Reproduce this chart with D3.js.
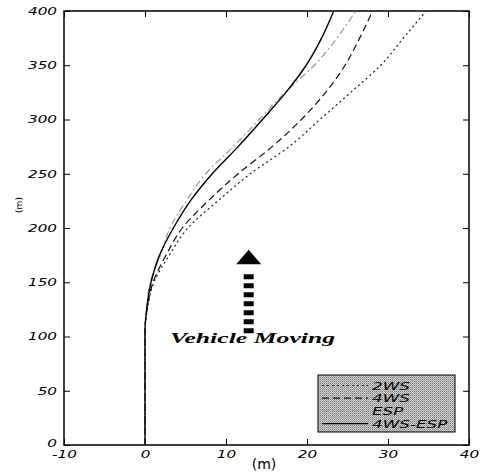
<!DOCTYPE html>
<html>
<head>
<meta charset="utf-8">
<script src="https://cdn.jsdelivr.net/npm/d3@7"></script>
<style>
  body { margin: 0; background: #fff; }
  .tick line { stroke: #000; }
</style>
</head>
<body>
<script>
// lateral position (m) along the path, sampled at these travel distances (m)
var yGrid   = [0, 105, 125, 150, 175, 200, 225, 250, 275, 300, 325, 350, 375, 400];
var x2WS    = [0, 0, 0.3, 1.1, 3.0, 5.3, 9.0, 13.0, 17.8, 21.6, 25.4, 29.1, 31.9, 34.7];
var x4WS    = [0, 0, 0.25, 1.0, 2.6, 4.6, 7.8, 11.5, 15.7, 19.3, 22.3, 24.7, 26.5, 28.1];
var xESP    = [0, 0, 0.2, 0.65, 1.9, 3.1, 5.1, 7.5, 10.9, 14.1, 17.3, 20.9, 23.7, 26.0];
var x4WSESP = [0, 0, 0.2, 0.75, 1.8, 3.5, 5.6, 8.3, 11.5, 14.5, 17.4, 19.9, 21.8, 23.3];

var seriesNames = ["2WS", "4WS", "ESP", "4WS-ESP"];
var xTicks = [-10, 0, 10, 20, 30, 40];
var yTicks = [0, 50, 100, 150, 200, 250, 300, 350, 400];

var styles = {
  "2WS":     {dash: "2,3",     color: "#222", w: 1.2},
  "4WS":     {dash: "7,4",     color: "#111", w: 1.2},
  "ESP":     {dash: "7,3,2,3", color: "#999", w: 1.2},
  "4WS-ESP": {dash: null,      color: "#000", w: 1.4}
};
var seriesX = {"2WS": x2WS, "4WS": x4WS, "ESP": xESP, "4WS-ESP": x4WSESP};

var margin = {top: 11, right: 17, bottom: 29, left: 64},
    W = 486, H = 474,
    width = W - margin.left - margin.right,
    height = H - margin.top - margin.bottom;

var x = d3.scaleLinear().domain([-10, 40]).range([0, width]);
var y = d3.scaleLinear().domain([0, 400]).range([height, 0]);

var svg = d3.select("body").append("svg")
    .attr("width", W)
    .attr("height", H)
  .append("g")
    .attr("transform", "translate(" + margin.left + "," + margin.top + ")");

// halftone fill for the legend
var pat = svg.append("defs").append("pattern")
    .attr("id", "dots").attr("width", 2).attr("height", 2)
    .attr("patternUnits", "userSpaceOnUse");
pat.append("rect").attr("width", 2).attr("height", 2).attr("fill", "#d4d4d4");
pat.append("rect").attr("width", 1).attr("height", 1).attr("fill", "#777");
pat.append("rect").attr("x", 1).attr("y", 1).attr("width", 1).attr("height", 1).attr("fill", "#a0a0a0");

// axes
var fmt = function(d) { return String(d); };
var xAxis = d3.axisBottom(x).tickValues(xTicks).tickFormat(fmt).tickSizeInner(-6).tickSizeOuter(0).tickPadding(6);
var yAxis = d3.axisLeft(y).tickValues(yTicks).tickFormat(fmt).tickSizeInner(-6).tickSizeOuter(0).tickPadding(7);

var gx = svg.append("g")
    .attr("transform", "translate(0," + height + ")")
    .call(xAxis);
gx.selectAll("text")
    .attr("transform", "scale(1.45,1)")
    .style("font-family", "DejaVu Sans").style("font-style", "italic")
    .style("font-size", "10.5px").attr("fill", "#000");

var gy = svg.append("g").call(yAxis);
gy.selectAll("text")
    .attr("x", 0)
    .attr("transform", function(d) { return "translate(-7," + (d === 0 ? -2 : 0) + ") scale(1.45,1)"; })
    .style("font-family", "DejaVu Sans").style("font-style", "italic")
    .style("font-size", "10.5px").attr("fill", "#000");

svg.append("g").call(d3.axisTop(x).tickValues(xTicks).tickSizeInner(-6).tickSizeOuter(0).tickFormat(""));
svg.append("g").attr("transform", "translate(" + width + ",0)")
    .call(d3.axisRight(y).tickValues(yTicks).tickSizeInner(-6).tickSizeOuter(0).tickFormat(""));
svg.selectAll(".domain").remove();

svg.append("rect")
    .attr("width", width).attr("height", height)
    .attr("fill", "none").attr("stroke", "#000").attr("stroke-width", 1.5);

// axis titles
svg.append("text")
    .attr("transform", "translate(" + (22 - margin.left) + "," + (205 - margin.top) + ") rotate(-90)")
    .attr("text-anchor", "middle")
    .style("font-family", "DejaVu Sans").style("font-size", "9px")
    .text("(m)");
svg.append("text")
    .attr("x", 264 - margin.left).attr("y", height + 24)
    .attr("text-anchor", "middle")
    .style("font-family", "DejaVu Sans").style("font-size", "14px")
    .text("(m)");

// trajectories
var line = d3.line()
    .x(function(d) { return x(d[0]); })
    .y(function(d) { return y(d[1]); })
    .curve(d3.curveMonotoneY);

seriesNames.forEach(function(name) {
  var pts = seriesX[name].map(function(v, i) { return [v, yGrid[i]]; });
  var s = styles[name];
  svg.append("path")
      .datum(pts)
      .attr("d", line)
      .attr("fill", "none")
      .attr("stroke", s.color)
      .attr("stroke-width", s.w)
      .attr("stroke-dasharray", s.dash);
});

// "Vehicle Moving" arrow
var ax = x(12.8);
svg.append("line")
    .attr("x1", ax).attr("x2", ax)
    .attr("y1", y(103)).attr("y2", y(161))
    .attr("stroke", "#000").attr("stroke-width", 10)
    .attr("stroke-dasharray", "5,4");
svg.append("path")
    .attr("d", "M" + (ax - 12.5) + "," + y(166.5) + "L" + ax + "," + y(180) + "L" + (ax + 12.5) + "," + y(166.5) + "Z")
    .attr("fill", "#000");
svg.append("text")
    .attr("x", x(3.1)).attr("y", y(94))
    .attr("textLength", 165).attr("lengthAdjust", "spacingAndGlyphs")
    .style("font-family", "Liberation Serif").style("font-weight", "bold")
    .style("font-style", "italic").style("font-size", "15px")
    .text("Vehicle Moving");

// legend
var lg = svg.append("g").attr("transform", "translate(" + (318 - margin.left) + "," + (375 - margin.top) + ")");
lg.append("rect")
    .attr("width", 137).attr("height", 57)
    .attr("fill", "url(#dots)").attr("stroke", "#000").attr("stroke-width", 1);
seriesNames.forEach(function(name, i) {
  var ry = 10.5 + i * 12.7;
  var s = styles[name];
  lg.append("line")
      .attr("x1", 4).attr("x2", 50).attr("y1", ry).attr("y2", ry)
      .attr("stroke", s.color).attr("stroke-width", s.w)
      .attr("stroke-dasharray", s.dash);
  lg.append("text")
      .attr("transform", "translate(54," + (ry + 4) + ") scale(1.6,1)")
      .style("font-family", "DejaVu Sans").style("font-style", "italic")
      .style("font-size", "10.5px")
      .text(name);
});
</script>
</body>
</html>
